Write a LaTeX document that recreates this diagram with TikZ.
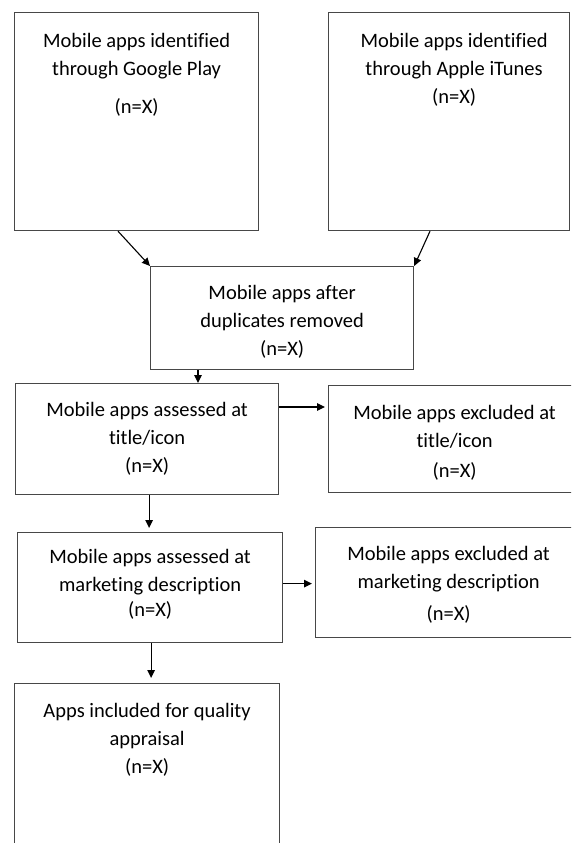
\documentclass[tikz,border=0pt]{standalone}
\usepackage{fontspec}
\setmainfont{Carlito}[Ligatures={NoCommon}]
\usepackage{tikz}
\usetikzlibrary{arrows.meta, positioning, calc}

\begin{document}
\begin{tikzpicture}[x=1pt, y=-1pt,
    sbox/.style={draw=black!72, line width=1.2pt, anchor=north west, inner sep=0pt},
    txt/.style={align=center, inner sep=0pt, font=\fontsize{20.5}{28}\selectfont},
    arr/.style={-{Triangle[length=8pt, width=7.5pt]}, line width=1.1pt}]
  \clip (0,0) rectangle (571,843);
  % sources
  \node[sbox, minimum width=244pt, minimum height=218pt] (gplay) at (14,12) {};
  \node[txt, below=21pt of gplay.north] (gplayT) {Mobile apps identified\\ through Google Play\\[10pt] (n=X)};
  \node[sbox, minimum width=241pt, minimum height=218pt] (itunes) at (328,12) {};
  \node[txt, below=21pt of itunes.north, xshift=5pt] (itunesT) {Mobile apps identified\\ through Apple iTunes\\ (n=X)};
  % duplicates
  \node[sbox, minimum width=263pt, minimum height=103pt] (dup) at (150,266) {};
  \node[txt, below=19pt of dup.north] (dupT) {Mobile apps after\\ duplicates removed\\ (n=X)};
  % screening at title/icon
  \node[sbox, minimum width=263pt, minimum height=111pt] (title) at (15,383) {};
  \node[txt, below=19pt of title.north] (titleT) {Mobile apps assessed at\\ title/icon\\ (n=X)};
  \node[sbox, minimum width=252pt, minimum height=107pt] (exTitle) at (328,385) {};
  \node[txt, below=20pt of exTitle.north] (exTitleT) {Mobile apps excluded at\\ title/icon\\[2pt] (n=X)};
  % screening at marketing description
  \node[sbox, minimum width=265pt, minimum height=110pt] (mkt) at (17,532) {};
  \node[txt, below=17pt of mkt.north] (mktT) {Mobile apps assessed at\\ marketing description\\[-3pt] (n=X)};
  \node[sbox, minimum width=266pt, minimum height=110pt] (exMkt) at (315,527) {};
  \node[txt, below=19pt of exMkt.north] (exMktT) {Mobile apps excluded at\\ marketing description\\[4pt] (n=X)};
  % included
  \node[sbox, minimum width=265pt, minimum height=200pt] (incl) at (14,683) {};
  \node[txt, below=20pt of incl.north] (inclT) {Apps included for quality\\ appraisal\\ (n=X)};
  % arrows
  \draw[arr] ($(gplay.south west)+(104,0)$) -- (dup.north west);
  \draw[arr] ($(itunes.south west)+(102,0)$) -- (dup.north east);
  \draw[arr] ($(dup.south west)+(48,0)$) coordinate (d1) -- (d1 |- title.north);
  \draw[arr, shorten >=3pt] ($(title.north east)+(0,24)$) coordinate (t1) -- (t1 -| exTitle.west);
  \draw[arr, shorten >=4pt] ($(title.south)+(2,0)$) coordinate (t2) -- (t2 |- mkt.north);
  \draw[arr, shorten >=3pt] ($(mkt.east)+(0,-4)$) coordinate (m1) -- (m1 -| exMkt.west);
  \draw[arr, shorten >=5pt] ($(mkt.south)+(1,0)$) coordinate (m2) -- (m2 |- incl.north);
\end{tikzpicture}
\end{document}
